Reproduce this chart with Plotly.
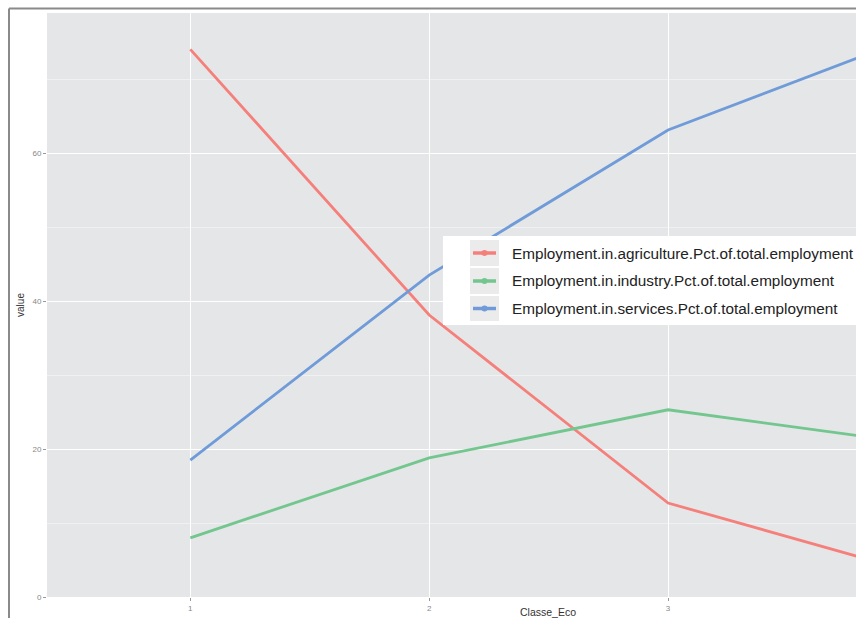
import plotly.graph_objects as go

classes = [1, 2, 3, 4]
series_names = [
    "Employment.in.agriculture.Pct.of.total.employment",
    "Employment.in.industry.Pct.of.total.employment",
    "Employment.in.services.Pct.of.total.employment",
]
agriculture = [74.0, 38.1, 12.7, 3.6]
industry = [8.0, 18.8, 25.3, 20.9]
services = [18.5, 43.5, 63.1, 75.4]
y_ticks = [0, 20, 40, 60]
x_ticks = [1, 2, 3]

colors = ["#F5807B", "#72C68E", "#6F9BD8"]

W, H = 856, 618
L, R, T, B = 47, 0, 13, 21
pw, ph = W - L - R, H - T - B

fig = go.Figure()
for name, vals, c in zip(series_names, [agriculture, industry, services], colors):
    fig.add_trace(go.Scatter(x=classes, y=vals, mode="lines", name=name,
                             line=dict(color=c, width=2.8), showlegend=False))


def px2paper_x(px):
    return (px - L) / pw


def px2paper_y(py):
    return (H - B - py) / ph


shapes = []
annotations = []
# outer frame
shapes.append(dict(type="line", xref="paper", yref="paper",
                   x0=px2paper_x(9), x1=px2paper_x(870), y0=px2paper_y(8.5), y1=px2paper_y(8.5),
                   line=dict(color="#8a8a8a", width=2), layer="above"))
shapes.append(dict(type="line", xref="paper", yref="paper",
                   x0=px2paper_x(9), x1=px2paper_x(9), y0=px2paper_y(8.5), y1=px2paper_y(640),
                   line=dict(color="#8a8a8a", width=2), layer="above"))
# legend box
shapes.append(dict(type="rect", xref="paper", yref="paper",
                   x0=px2paper_x(443), x1=px2paper_x(870), y0=px2paper_y(236), y1=px2paper_y(325),
                   fillcolor="white", line=dict(width=0), layer="above"))
key_rows = [(240, 266), (268, 294), (296, 321)]
for (y0, y1), name, c in zip(key_rows, series_names, colors):
    yc = (y0 + y1) / 2
    shapes.append(dict(type="rect", xref="paper", yref="paper",
                       x0=px2paper_x(470), x1=px2paper_x(499), y0=px2paper_y(y0), y1=px2paper_y(y1),
                       fillcolor="#ebebeb", line=dict(width=0), layer="above"))
    shapes.append(dict(type="line", xref="paper", yref="paper",
                       x0=px2paper_x(473), x1=px2paper_x(496), y0=px2paper_y(yc), y1=px2paper_y(yc),
                       line=dict(color=c, width=3.5), layer="above"))
    shapes.append(dict(type="circle", xref="paper", yref="paper",
                       x0=px2paper_x(481.5), x1=px2paper_x(487.5), y0=px2paper_y(yc - 3), y1=px2paper_y(yc + 3),
                       fillcolor=c, line=dict(width=0), layer="above"))
    annotations.append(dict(xref="paper", yref="paper", x=px2paper_x(510), y=px2paper_y(yc),
                            xanchor="left", yanchor="middle", showarrow=False, text=name,
                            font=dict(size=15.3, color="#222222", family="Liberation Sans, Arial, sans-serif")))

annotations.append(dict(xref="paper", yref="paper", x=px2paper_x(548), y=px2paper_y(612),
                        xanchor="center", yanchor="middle", showarrow=False, text="Classe_Eco",
                        font=dict(size=10.5, color="#333333", family="Liberation Sans, Arial, sans-serif")))

fig.update_layout(
    width=W, height=H,
    margin=dict(l=L, r=R, t=T, b=B, pad=0),
    paper_bgcolor="white",
    plot_bgcolor="#E5E6E8",
    font=dict(family="Liberation Sans, Arial, sans-serif", color="#333333"),
    shapes=shapes,
    annotations=annotations,
    showlegend=False,
    xaxis=dict(range=[0.40, 1 + (W - 190) / 239.0], tickvals=x_ticks, ticktext=[str(v) for v in x_ticks],
               showgrid=True, gridcolor="white", gridwidth=1.2, zeroline=False,
               ticks="outside", ticklen=3, tickcolor="#999999", tickwidth=1,
               tickfont=dict(size=8, color="#888888"),
               showline=False),
    yaxis=dict(range=[0, (H - B - T) / 7.4], tickvals=y_ticks, ticktext=[str(v) for v in y_ticks],
               showgrid=True, gridcolor="white", gridwidth=1.2, zeroline=False,
               minor=dict(tickvals=[10, 30, 50, 70], showgrid=True, gridcolor="#F0F1F2", gridwidth=0.8),
               ticks="outside", ticklen=3, tickcolor="#999999", tickwidth=1,
               tickfont=dict(size=8, color="#888888"),
               title=dict(text="value", font=dict(size=10, color="#333333"), standoff=5),
               showline=False),
)

fig.write_html("out.html", config={"displayModeBar": False},
               post_script="document.body.style.margin='0';document.body.style.overflow='hidden';")
